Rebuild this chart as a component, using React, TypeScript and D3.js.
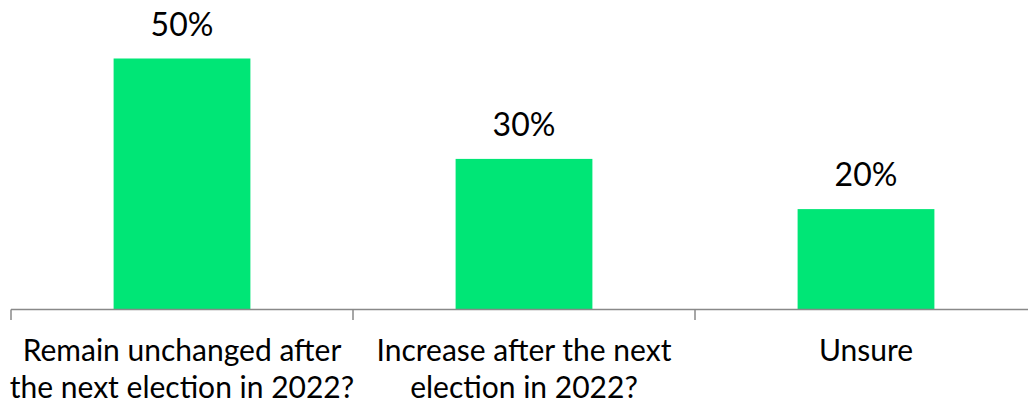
import React from "react";
import * as d3 from "d3";

const categories: string[][] = [
  ["Remain unchanged after", "the next election in 2022?"],
  ["Increase after the next", "election in 2022?"],
  ["Unsure"],
];
const values: number[] = [50, 30, 20];
const valueLabels: string[] = ["50%", "30%", "20%"];

const W = 1028;
const H = 403;
const FONT = "Lato, 'Open Sans', sans-serif";

export default function App() {
  const keys = categories.map((_, i) => String(i));
  const x = d3
    .scaleBand<string>()
    .domain(keys)
    .range([11, 1037])
    .paddingInner(0.6)
    .paddingOuter(0.3);
  const y = d3.scaleLinear().domain([0, 60]).range([309.5, 8.3]);
  const step = x.step();
  const start = 11;
  const tickXs = [0, 1, 2].map((i) => start + i * step);
  const base = y(0);

  return (
    <svg
      width={W}
      height={H}
      style={{ position: "absolute", left: 0, top: 0, display: "block" }}
      fontFamily={FONT}
    >
      <rect width={W} height={H} fill="#ffffff" />
      {values.map((v, i) => (
        <rect
          key={i}
          x={x(keys[i])!}
          y={y(v)}
          width={x.bandwidth()}
          height={base - y(v)}
          fill="#00E676"
        />
      ))}
      <line x1={11} x2={W} y1={base} y2={base} stroke="#898989" strokeWidth={1.5} />
      {tickXs.map((tx, i) => (
        <line key={i} x1={tx} x2={tx} y1={base} y2={base + 10.5} stroke="#898989" strokeWidth={1.5} />
      ))}
      {values.map((v, i) => (
        <text
          key={i}
          x={x(keys[i])! + x.bandwidth() / 2}
          y={y(v) - 23}
          textAnchor="middle"
          fontSize={32}
          fill="#000"
        >
          {valueLabels[i]}
        </text>
      ))}
      {categories.map((lines, i) => (
        <text
          key={i}
          x={x(keys[i])! + x.bandwidth() / 2}
          y={361}
          textAnchor="middle"
          fontSize={30}
          fill="#000"
        >
          {lines.map((l, j) => (
            <tspan key={j} x={x(keys[i])! + x.bandwidth() / 2} dy={j === 0 ? 0 : 37}>
              {l}
            </tspan>
          ))}
        </text>
      ))}
    </svg>
  );
}
